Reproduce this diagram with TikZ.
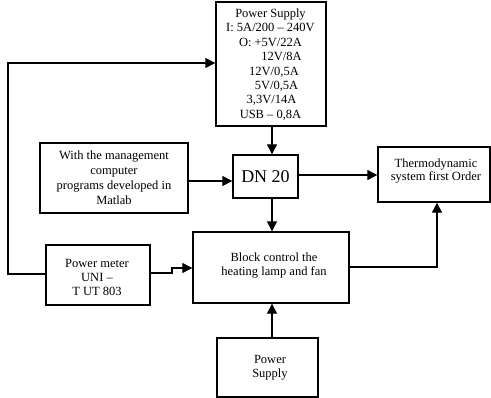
\documentclass[tikz,border=0pt]{standalone}
\usepackage{fontspec}
\setmainfont{Liberation Serif}
\usetikzlibrary{arrows.meta}
\begin{document}
\begin{tikzpicture}[x=1pt,y=-1pt,
  blk/.style={draw,line width=1.4pt,inner sep=0pt},
  con/.style={line width=1.2pt},
  arr/.style={con,-{Triangle[length=10pt,width=10pt]}},
  txt/.style={align=center,font=\fontsize{12.5}{14.4}\selectfont}]
\useasboundingbox (0,0) rectangle (491,398);
% boxes
\node[blk,minimum width=110pt,minimum height=124pt] (ps) at (271,64) {};
\node[txt] at (270.5,64.5) {Power Supply\\I: 5A/200 -- 240V\\O: +5V/22A\\\hspace*{22pt}12V/8A\\\hspace*{7pt}12V/0,5A\\\hspace*{12pt}5V/0,5A\\\hspace*{2pt}3,3V/14A\\USB -- 0,8A};
\node[blk,minimum width=148pt,minimum height=70pt] (mg) at (114,178) {};
\node[txt,font=\fontsize{12.5}{15}\selectfont] at (114,178) {With the management\\computer\\programs developed in\\Matlab};
\node[blk,minimum width=65pt,minimum height=43pt,font=\fontsize{18}{20}\selectfont] (dn) at (265.5,176.5) {DN 20};
\node[blk,minimum width=112pt,minimum height=55pt] (th) at (434,174.5) {};
\node[txt,font=\fontsize{12.5}{13.5}\selectfont] at (436,171) {Thermodynamic\\system first Order};
\node[blk,minimum width=156pt,minimum height=71pt] (bc) at (271,267.5) {};
\node[txt,font=\fontsize{12.5}{14}\selectfont] at (274,266) {Block control the\\heating lamp and fan};
\node[blk,minimum width=104pt,minimum height=60pt] (pm) at (98,275) {};
\node[txt,font=\fontsize{12.5}{14}\selectfont] at (97,277) {Power meter\\UNI --\\T UT 803};
\node[blk,minimum width=101pt,minimum height=59pt] (ps2) at (267.5,367.5) {};
\node[txt,font=\fontsize{12.5}{14}\selectfont] at (270,368) {Power\\Supply};
% connectors
\coordinate (c1) at (8,274);
\coordinate (c2) at (8,63);
\draw[arr] (pm.west |- c1) -- (c1) -- (c2) -- (ps.west |- c2);
\draw[arr] (ps.south -| 272,0) -- (dn.north -| 272,0);
\draw[arr] (mg.east |- 0,181) -- (dn.west |- 0,181);
\draw[arr] (dn.east |- 0,175) -- (th.west |- 0,175);
\draw[arr] (dn.south -| 272,0) -- (bc.north -| 272,0);
\coordinate (c3) at (437,267);
\draw[arr] (bc.east |- c3) -- (c3) -- (th.south -| c3);
\coordinate (c4) at (172,273);
\coordinate (c5) at (172,268);
\draw[arr] (pm.east |- c4) -- (c4) -- (c5) -- (bc.west |- c5);
\draw[arr] (ps2.north -| 272,0) -- (bc.south -| 272,0);
\end{tikzpicture}
\end{document}
